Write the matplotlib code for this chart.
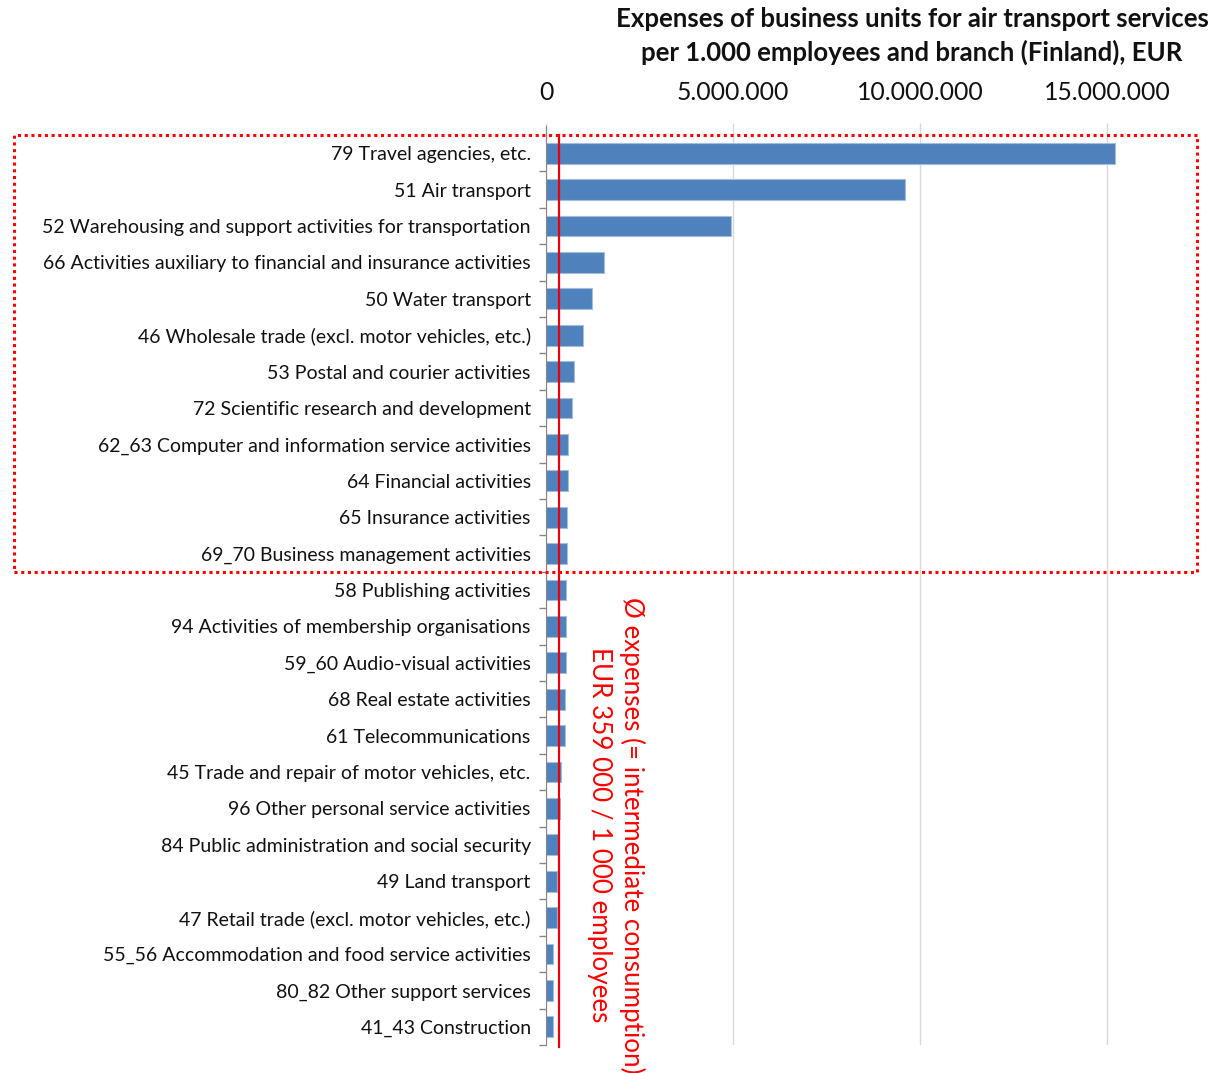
import matplotlib
matplotlib.use('Agg')
import matplotlib.pyplot as plt
import numpy as np
from matplotlib.patches import Rectangle
from matplotlib.ticker import FuncFormatter, FixedLocator

plt.rcParams['font.family'] = ['Lato', 'DejaVu Sans']

branches = [
    "79 Travel agencies, etc.",
    "51 Air transport",
    "52 Warehousing and support activities for transportation",
    "66 Activities auxiliary to financial and insurance activities",
    "50 Water transport",
    "46 Wholesale trade (excl. motor vehicles, etc.)",
    "53 Postal and courier activities",
    "72 Scientific research and development",
    "62_63 Computer and information service activities",
    "64 Financial activities",
    "65 Insurance activities",
    "69_70 Business management activities",
    "58 Publishing activities",
    "94 Activities of membership organisations",
    "59_60 Audio-visual activities",
    "68 Real estate activities",
    "61 Telecommunications",
    "45 Trade and repair of motor vehicles, etc.",
    "96 Other personal service activities",
    "84 Public administration and social security",
    "49 Land transport",
    "47 Retail trade (excl. motor vehicles, etc.)",
    "55_56 Accommodation and food service activities",
    "80_82 Other support services",
    "41_43 Construction",
]
expenses = [
    15190000, 9600000, 4940000, 1540000, 1230000, 1000000, 740000, 690000,
    590000, 590000, 560000, 560000, 530000, 530000, 530000, 520000, 520000,
    410000, 380000, 340000, 290000, 290000, 200000, 180000, 180000,
]
average = 359000
ticks = [0, 5000000, 10000000, 15000000]

W, H = 1220, 1073
fig = plt.figure(figsize=(W / 100, H / 100), dpi=100)
ax = fig.add_axes([546 / W, 1 - 1045 / H, 655 / W, 910 / H])

y = np.arange(len(branches))
ax.barh(y, expenses, height=0.57, color='#4f81bd', edgecolor='#a3bddc',
        linewidth=0.8, zorder=2)
ax.axvline(average, color='#e8000b', lw=1.6, zorder=3, ymin=-0.002, clip_on=False)

ax.set_xlim(0, 17500000)
ax.set_ylim(len(branches) - 0.5, -0.5)

ax.xaxis.tick_top()
ax.set_xticks(ticks)
ax.xaxis.set_major_formatter(FuncFormatter(lambda v, p: f"{int(v):,}".replace(",", ".")))
ax.tick_params(axis='x', length=9, width=1, color='#d9d9d9', pad=13,
               labelsize=17.8, labelcolor='#111111')
ax.grid(axis='x', color='#d9d9d9', lw=1, zorder=0)

ax.set_yticks(y)
ax.set_yticklabels(branches)
ax.yaxis.set_minor_locator(FixedLocator(np.arange(-0.5, len(branches) + 0.5, 1)[1:]))
ax.tick_params(axis='y', which='major', length=0, pad=11, labelsize=14,
               labelcolor='#111111')
ax.tick_params(axis='y', which='minor', length=5, width=1, color='#868686')

for s in ['top', 'right', 'bottom']:
    ax.spines[s].set_visible(False)
ax.spines['left'].set_color('#868686')
ax.spines['left'].set_bounds(len(branches) - 0.5, -0.5 - 9 / 36.4)

# dotted highlight box
fig.patches.append(Rectangle((14 / W, 1 - 572 / H), (1197 - 14) / W, (572 - 135) / H,
                             transform=fig.transFigure, fill=False, edgecolor='#ff0000',
                             lw=2.2, linestyle=(0, (1, 1.2)), zorder=5))

fig.text(912 / W, 1 - 36 / H,
         "Expenses of business units for air transport services\nper 1.000 employees and branch (Finland), EUR",
         ha='center', va='center', fontsize=18.5, fontweight='bold', linespacing=1.38,
         color='#111111')

fig.text(616 / W, 1 - 835 / H,
         "\u00d8 expenses (= intermediate consumption)\nEUR 359 000 / 1 000 employees",
         ha='center', va='center', rotation=-90, color='#ff0000', fontsize=18.7,
         linespacing=1.35, multialignment='center')

fig.savefig('out.png', dpi=100)
